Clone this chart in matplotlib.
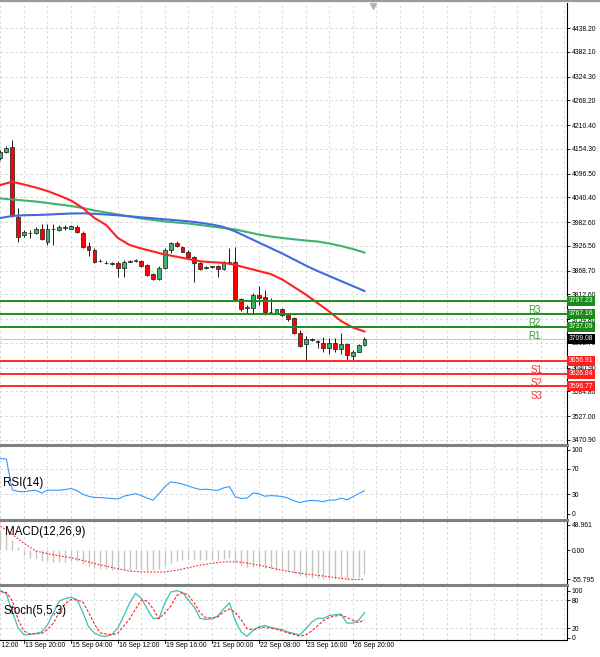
import numpy as np
import matplotlib.pyplot as plt
from matplotlib.lines import Line2D
from matplotlib.transforms import blended_transform_factory as blend

plt.rcParams['font.family'] = ['Liberation Sans', 'DejaVu Sans']

W, H = 600, 657

# ---- 4H candles (US500) ----
opens = [4133.0, 4147.0, 4158.8, 3994.4, 3951.5, 3955.7, 3956.2, 3966.2, 3936.5, 3965.1,
         3963.9, 3969.3, 3967.0, 3971.7, 3957.6, 3926.4, 3915.8, 3891.5, 3886.8, 3885.2,
         3887.1, 3874.0, 3889.9, 3892.0, 3892.3, 3881.7, 3860.6, 3848.8, 3874.0, 3916.9,
         3932.7, 3924.7, 3913.0, 3899.8, 3887.1, 3875.8, 3877.7, 3879.4, 3871.2, 3889.4,
         3889.4, 3801.2, 3781.5, 3780.0, 3811.3, 3807.3, 3770.6, 3768.3, 3778.4, 3764.3,
         3756.6, 3722.8, 3695.5, 3706.8, 3703.9, 3699.3, 3686.1, 3697.9, 3683.8, 3695.5,
         3668.8, 3678.2, 3693.9]
highs = [4151.7, 4161.1, 4175.2, 4015.6, 3963.9, 3963.9, 3971.0, 3978.0, 3978.0, 3978.0,
         3974.5, 3975.6, 3975.6, 3974.5, 3961.6, 3936.5, 3921.6, 3895.8, 3891.1, 3888.8,
         3891.1, 3893.5, 3894.6, 3895.8, 3894.6, 3884.1, 3862.9, 3879.4, 3921.6, 3936.5,
         3938.1, 3927.5, 3915.8, 3902.9, 3888.8, 3879.4, 3880.5, 3881.7, 3891.1, 3920.9,
         3924.7, 3804.2, 3787.8, 3816.7, 3832.4, 3823.0, 3804.2, 3778.4, 3779.6, 3765.5,
         3759.6, 3729.1, 3715.0, 3710.3, 3706.8, 3712.0, 3710.3, 3710.3, 3722.0, 3698.6,
         3682.1, 3696.3, 3712.0]
lows = [4128.3, 4144.7, 3994.4, 3935.7, 3947.5, 3945.1, 3954.5, 3940.4, 3928.7, 3928.7,
        3961.6, 3963.9, 3965.1, 3956.9, 3920.9, 3902.9, 3887.6, 3888.8, 3884.1, 3881.7,
        3853.5, 3854.2, 3888.8, 3888.8, 3877.0, 3855.9, 3846.5, 3846.5, 3872.3, 3909.2,
        3924.0, 3911.2, 3898.1, 3842.5, 3870.0, 3872.3, 3875.8, 3854.2, 3870.0, 3884.1,
        3799.5, 3773.7, 3768.3, 3768.3, 3787.8, 3764.3, 3766.7, 3766.7, 3762.0, 3751.4,
        3719.7, 3689.2, 3657.0, 3703.3, 3686.8, 3678.2, 3672.7, 3678.2, 3672.7, 3657.0,
        3658.7, 3677.4, 3691.6]
closes = [4147.0, 4157.6, 3999.1, 3947.5, 3958.5, 3956.9, 3965.5, 3942.2, 3966.2, 3966.2,
          3971.7, 3970.0, 3973.3, 3959.9, 3924.7, 3915.8, 3889.4, 3892.1, 3887.4, 3886.2,
          3874.0, 3889.4, 3891.8, 3892.5, 3879.4, 3858.2, 3848.8, 3875.4, 3916.9, 3932.7,
          3926.4, 3913.0, 3899.8, 3887.1, 3871.6, 3877.0, 3878.6, 3871.2, 3888.1, 3885.7,
          3801.2, 3779.1, 3782.4, 3811.3, 3805.0, 3771.4, 3771.4, 3777.7, 3764.3, 3754.2,
          3721.4, 3692.7, 3707.2, 3707.7, 3701.6, 3686.1, 3697.9, 3684.5, 3695.5, 3670.4,
          3678.2, 3693.9, 3709.08]

# moving averages, sampled every second bar
ma_idx = list(range(0, 63, 2))
ma_red = [4069.6, 4077.3, 4070.7, 4063.7, 4055.5, 4044.9, 4033.2, 4015.6, 3992.1, 3975.6,
          3945.1, 3928.7, 3920.4, 3913.4, 3906.4, 3901.2, 3895.8, 3890.4, 3888.3, 3886.9,
          3881.7, 3874.7, 3867.6, 3860.6, 3847.7, 3830.1, 3812.4, 3792.5, 3772.5, 3750.2,
          3735.0, 3725.6]
ma_blue = [3992.1, 3996.8, 3998.6, 3999.1, 4000.1, 4001.5, 4002.6, 4003.1, 4001.9, 4000.3,
           3998.4, 3996.1, 3993.7, 3991.4, 3989.0, 3986.7, 3984.3, 3981.0, 3976.8, 3971.0,
           3960.4, 3947.5, 3934.5, 3921.6, 3908.7, 3894.6, 3880.5, 3867.6, 3855.9, 3844.1,
           3832.4, 3820.7]
ma_green = [4037.9, 4035.5, 4033.2, 4030.8, 4027.3, 4023.8, 4020.3, 4015.6, 4009.7, 4005.0,
            4000.3, 3995.6, 3990.9, 3987.4, 3983.9, 3981.5, 3979.2, 3975.6, 3972.1, 3968.6,
            3965.1, 3959.2, 3953.3, 3948.6, 3945.1, 3942.1, 3939.2, 3936.9, 3932.2, 3926.4,
            3919.3, 3911.1]

res_levels = [3797.23, 3767.16, 3737.09]
res_names = ['R3', 'R2', 'R1']
sup_levels = [3656.91, 3626.84, 3596.77]
sup_names = ['S1', 'S2', 'S3']
last_price = 3709.08

price_ticks = [4438.20, 4382.10, 4324.30, 4268.20, 4210.40, 4154.30, 4096.50, 4040.40,
               3982.60, 3926.50, 3868.70, 3812.60, 3754.80, 3698.70, 3640.90, 3584.80,
               3527.00, 3470.90]

rsi = [86, 85, 37, 34.5, 34, 35.5, 36.5, 32, 36.5, 36.5,
       36.5, 37.5, 39, 36, 30, 27, 25, 25, 24, 23.5,
       22.5, 27, 29, 31, 28, 24, 21, 31, 42, 49.5,
       48, 46, 43, 40, 37.5, 38, 37, 36, 40, 42,
       26, 23.5, 24, 32, 31, 27, 28, 27.5, 26.5, 24,
       20, 17, 19.5, 20.5, 20, 18.5, 21, 21, 24, 21.5,
       26, 31, 35.5]

macd_main = [38, 36, 20, 6, -10, -15, -18, -21, -22, -23,
             -23, -23, -22, -22, -26, -30, -34, -36, -37, -38,
             -39, -39, -38, -37, -37, -38, -39, -37, -31, -25,
             -21, -19, -18, -18, -19, -19, -19, -19, -17, -16,
             -23, -29, -33, -33, -33, -35, -37, -38, -39, -41,
             -45, -50, -52, -53, -54, -55, -55, -55, -54, -55,
             -54, -51, -46]
macd_signal = [46, 30, 13, -2, -7, -11, -15, -20, -26, -31,
               -36, -40.5, -42, -42.5, -42, -39, -34, -29, -25.5, -23,
               -22.5, -25, -29, -34, -39, -43, -46, -48.5, -51.5, -54.5,
               -57, -56]

stoch_k = [100, 93, 55, 21, 6, 7, 9, 12, 27, 53,
           78, 83, 86, 81, 55, 23, 10, 4, 3, 7,
           21, 46, 74, 94, 84, 61, 41, 41, 74, 97,
           100, 96, 80, 65, 41, 39, 40, 46, 61, 74,
           36, 12, 3, 15, 23, 26, 22, 19, 17, 12,
           9, 6, 19, 33, 41, 41, 47, 49, 50, 31,
           31, 37, 53]
stoch_d = [98, 96, 79, 38, 14, 8, 8, 9, 17, 31,
           53, 72, 81, 80, 76, 54, 29, 10, 8, 6,
           10, 25, 40, 61, 80, 78, 61, 40, 53, 67,
           89, 96, 90, 74, 53, 42, 42, 44, 55, 61,
           54, 38, 19, 17, 21, 22, 20, 18, 14, 10,
           7, 3, 6, 14, 25, 36, 43, 46, 48, 43,
           37, 32, 38]

date_idx = [-4, 4, 12, 20, 28, 36, 44, 52, 60]
date_labels = ['12 Sep 12:00', '13 Sep 20:00', '15 Sep 04:00', '16 Sep 12:00',
               '19 Sep 16:00', '21 Sep 00:00', '22 Sep 08:00', '23 Sep 16:00',
               '26 Sep 20:00']

# ------------------------------------------------------------
opens = np.array(opens); closes = np.array(closes)
x = np.arange(len(closes))

fig = plt.figure(figsize=(W / 100, H / 100), dpi=100)
fig.patch.set_facecolor('white')


def px_axes(top, bottom):
    return fig.add_axes([0, 1 - bottom / H, 567 / W, (bottom - top) / H])


ax = px_axes(3, 443)
ax_rsi = px_axes(446, 518)
ax_macd = px_axes(521, 584)
ax_sto = px_axes(586, 640)

grid_kw = dict(color='#d2d2d2', lw=0.6, ls=(0, (3, 3)), zorder=0)
TICK_FS = 4.9

for a in (ax, ax_rsi, ax_macd, ax_sto):
    a.set_xlim(-0.085, 96.5)
    for s in ('left', 'top', 'bottom'):
        a.spines[s].set_visible(False)
    a.spines['right'].set_color('black')
    a.spines['right'].set_linewidth(0.8)
    a.yaxis.tick_right()
    a.tick_params(axis='y', direction='out', length=2, width=0.6, pad=1.2,
                  labelsize=TICK_FS, colors='black')
    a.set_xticks([])
    for g in range(0, 97, 4):
        a.axvline(g, **grid_kw)

# ---- main price panel ----
ax.set_ylim(3463.8, 4496.9)
ax.set_yticks(price_ticks)
ax.set_yticklabels([f'{p:.2f}' for p in price_ticks])
for p in price_ticks:
    ax.axhline(p, **grid_kw)

ax.axhline(last_price, color='#c8c8c8', lw=0.8, zorder=1)

up = closes >= opens
ax.vlines(x, lows, highs, color='#1a1a1a', lw=0.7, zorder=3)
ax.bar(x, np.abs(closes - opens), 0.65, bottom=np.minimum(opens, closes),
       color=np.where(up, '#3cb371', '#ff0000'), edgecolor='#1a1a1a', lw=0.5, zorder=4)

ax.plot(ma_idx, ma_green, color='#3cb371', lw=1.5, zorder=5)
ax.plot(ma_idx, ma_blue, color='#4169e1', lw=1.5, zorder=5)
ax.plot(ma_idx, ma_red, color='#ff2020', lw=1.5, zorder=5)

tr = blend(ax.transAxes, ax.transData)
for lv, name in zip(res_levels, res_names):
    ax.axhline(lv, color='#1e8c1e', lw=1.4, zorder=6)
    ax.annotate(name, (541 / 567, lv), xycoords=tr, xytext=(0, -3.0),
                textcoords='offset points', ha='right', va='top',
                fontsize=7, color='#3a9a3a', zorder=7)
for lv, name in zip(sup_levels, sup_names):
    ax.axhline(lv, color='#ff2a2a', lw=1.4, zorder=6)
    ax.annotate(name, (542 / 567, lv), xycoords=tr, xytext=(0, -3.0),
                textcoords='offset points', ha='right', va='top',
                fontsize=7, color='#ff3030', zorder=7)


def tag(val, fc):
    ax.text(1.0035, val, f'{val:.2f}', transform=tr, ha='left', va='center',
            fontsize=TICK_FS, color='white', zorder=10, clip_on=False,
            bbox=dict(boxstyle='square,pad=0.22', fc=fc, ec='none'))


for lv in res_levels:
    tag(lv, '#1a8a1a')
for lv in sup_levels:
    tag(lv, '#ff2020')
tag(last_price, 'black')

ax.plot(373 / 567, 0.994, marker='v', ms=4, color='#b4b4b4',
        transform=ax.transAxes, clip_on=False)

# ---- RSI ----
ax_rsi.set_ylim(-7, 105.5)
ax_rsi.set_yticks([0, 30, 70, 100])
ax_rsi.set_yticklabels(['0', '30', '70', '100'])
for v in (30, 70):
    ax_rsi.axhline(v, **grid_kw)
ax_rsi.plot(x, rsi, color='#3399ff', lw=0.8)
ax_rsi.text(0.005, 0.49, 'RSI(14)', transform=ax_rsi.transAxes, fontsize=8.4, va='center')

# ---- MACD ----
ax_macd.set_ylim(-65.3, 55.7)
ax_macd.set_yticks([-55.795, 0, 48.961])
ax_macd.set_yticklabels(['-55.795', '0.00', '48.961'])
ax_macd.vlines(x, 0, macd_main, color='#c4c4c4', lw=1.0, zorder=2)
ax_macd.plot(ma_idx, macd_signal, color='#ff2020', lw=0.8, ls=(0, (1.5, 1.5)), zorder=3)
ax_macd.text(0.008, 0.82, 'MACD(12,26,9)', transform=ax_macd.transAxes,
             fontsize=8.3, va='center', zorder=5)

# ---- Stochastic ----
ax_sto.set_ylim(-4.9, 109.8)
ax_sto.set_yticks([0, 20, 80, 100])
ax_sto.set_yticklabels(['0', '20', '80', '100'])
for v in (20, 80):
    ax_sto.axhline(v, **grid_kw)
ax_sto.plot(x, stoch_k, color='#40c0b0', lw=0.9, zorder=3)
ax_sto.plot(x, stoch_d, color='#ff2020', lw=0.8, ls=(0, (2.5, 1.5)), zorder=3)
ax_sto.text(0.006, 0.54, 'Stoch(5,5,3)', transform=ax_sto.transAxes, fontsize=8.3, va='center')
ax_sto.spines['bottom'].set_visible(True)
ax_sto.spines['bottom'].set_linewidth(0.8)

tr_sto = blend(ax_sto.transData, ax_sto.transAxes)
for i, lab in zip(date_idx, date_labels):
    ax_sto.text(i + 0.15, -0.105, lab, transform=tr_sto, ha='left', va='center',
                fontsize=TICK_FS, clip_on=False)
    ax_sto.plot([i, i], [0, -0.05], transform=tr_sto, color='black', lw=0.6, clip_on=False)

# panel separators and window border
for ypx in (444.5, 519.5, 585):
    fig.add_artist(Line2D([0, 567 / W], [1 - ypx / H] * 2, color='#808080', lw=2.2))
fig.add_artist(Line2D([0, 1], [1 - 1.2 / H] * 2, color='#9a9a9a', lw=1.6))

fig.savefig('out.png', dpi=100)
